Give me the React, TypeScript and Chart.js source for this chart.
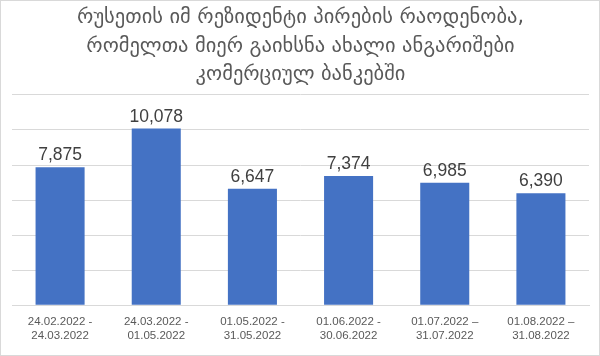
import React, { useEffect, useRef } from "react";
import { Chart, registerables } from "chart.js";

Chart.register(...registerables);

const titleLines = [
  "რუსეთის იმ რეზიდენტი პირების რაოდენობა,",
  "რომელთა მიერ გაიხსნა ახალი ანგარიშები",
  "კომერციულ ბანკებში",
];
const categories: string[][] = [
  ["24.02.2022 -", "24.03.2022"],
  ["24.03.2022 -", "01.05.2022"],
  ["01.05.2022 -", "31.05.2022"],
  ["01.06.2022 -", "30.06.2022"],
  ["01.07.2022 –", "31.07.2022"],
  ["01.08.2022 –", "31.08.2022"],
];
const values = [7875, 10078, 6647, 7374, 6985, 6390];
const yMax = 12000;
const yStep = 2000;

const valueLabels = {
  id: "valueLabels",
  afterDatasetsDraw(chart: any) {
    const ctx = chart.ctx;
    const meta = chart.getDatasetMeta(0);
    ctx.save();
    ctx.font = "17.5px 'Liberation Sans', Arial, sans-serif";
    ctx.fillStyle = "#404040";
    ctx.textAlign = "center";
    ctx.textBaseline = "bottom";
    meta.data.forEach((bar: any, i: number) => {
      const v = chart.data.datasets[0].data[i] as number;
      ctx.fillText(v.toLocaleString("en-US"), bar.x, bar.y - 3);
    });
    ctx.restore();
  },
};

export default function App() {
  const ref = useRef<HTMLCanvasElement>(null);
  useEffect(() => {
    document.body.style.margin = "0";
    const chart = new Chart(ref.current!, {
      type: "bar",
      data: {
        labels: categories,
        datasets: [
          {
            data: values,
            backgroundColor: "#4472C4",
            categoryPercentage: 1,
            barPercentage: 0.51,
          },
        ],
      },
      options: {
        animation: false,
        responsive: false,
        layout: { padding: { left: 11, right: 10, top: 3, bottom: 3 } },
        plugins: {
          legend: { display: false },
          tooltip: { enabled: false },
          title: {
            display: true,
            text: titleLines,
            color: "#595959",
            font: { family: "'DejaVu Sans', sans-serif", size: 20.5, weight: "normal", lineHeight: 1.38 },
            padding: { top: 0, bottom: 6 },
          },
        },
        scales: {
          x: {
            grid: { display: false, drawTicks: false },
            border: { display: true, color: "#D9D9D9", width: 1 },
            ticks: {
              color: "#595959",
              font: { family: "'Liberation Sans', Arial, sans-serif", size: 11.5, lineHeight: 1.16 },
              maxRotation: 0,
              padding: 10,
            },
          },
          y: {
            min: 0,
            max: yMax,
            ticks: { display: false, stepSize: yStep },
            grid: { color: "#D9D9D9", drawTicks: false },
            border: { display: false },
          },
        },
      },
      plugins: [valueLabels],
    });
    return () => chart.destroy();
  }, []);
  return (
    <div
      style={{
        position: "absolute",
        left: 0,
        top: 0,
        width: 600,
        height: 356,
        boxSizing: "border-box",
        border: "1px solid #D9D9D9",
        background: "#fff",
      }}
    >
      <canvas ref={ref} width={598} height={354} style={{ display: "block" }} />
    </div>
  );
}
